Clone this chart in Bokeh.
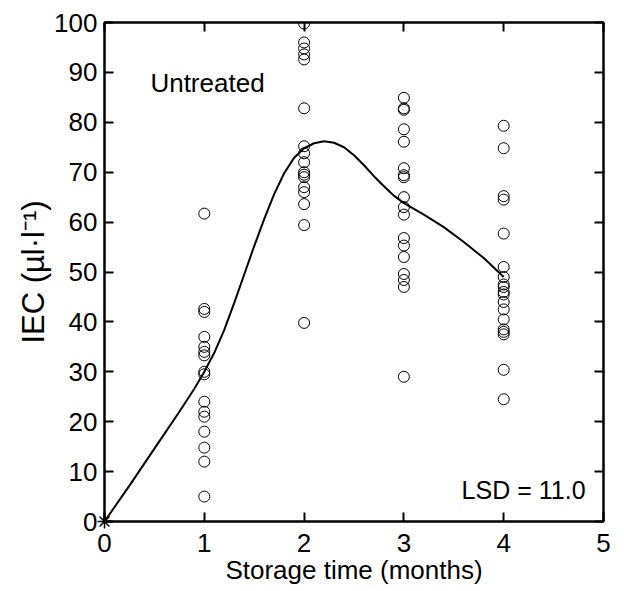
from bokeh.plotting import figure
from bokeh.models import LinearAxis, Range1d, FixedTicker, Label
from bokeh.embed import file_html
from bokeh.resources import INLINE

# Data
month1 = [61.7, 42.6, 42.0, 37.0, 35.0, 34.0, 33.3, 30.0, 29.5, 24.0, 22.0, 21.0, 18.0, 14.8, 12.0, 5.0]
month2 = [99.8, 96.0, 94.8, 93.6, 92.6, 82.8, 75.2, 73.8, 72.0, 70.0, 69.5, 69.0, 67.0, 66.0, 63.6, 59.4, 39.8]
month3 = [84.9, 82.8, 82.5, 78.6, 76.1, 70.8, 69.4, 69.0, 65.0, 63.0, 61.5, 56.8, 55.3, 53.0, 49.6, 48.4, 47.0, 29.0]
month4 = [79.3, 74.8, 65.2, 64.5, 57.7, 51.0, 49.0, 47.5, 47.0, 46.0, 45.5, 44.0, 42.5, 40.5, 38.5, 38.0, 37.5, 30.4, 24.5]

curve_x = [0, 0.25, 0.5, 0.75, 0.9, 1.0, 1.1, 1.2, 1.3, 1.4, 1.5, 1.6, 1.7, 1.8, 1.9, 2.0, 2.1, 2.2, 2.3, 2.4,
           2.5, 2.6, 2.7, 2.8, 2.9, 3.0, 3.2, 3.4, 3.6, 3.8, 4.0]
curve_y = [0, 7.2, 14.6, 22.0, 26.6, 30.0, 33.8, 38.4, 43.8, 49.5, 55.2, 60.6, 65.6, 69.8, 72.9, 74.8, 75.8, 76.2,
           75.9, 75.0, 73.4, 71.4, 69.2, 67.2, 65.3, 63.8, 61.5, 59.0, 56.0, 52.8, 49.0]

x_ticks = [0, 1, 2, 3, 4, 5]
y_ticks = [0, 10, 20, 30, 40, 50, 60, 70, 80, 90, 100]

FONT = "Liberation Sans"

p = figure(width=620, height=587, output_backend="svg", toolbar_location=None,
           x_range=Range1d(0, 5), y_range=Range1d(0, 100),
           x_axis_location=None, y_axis_location=None,
           min_border_left=104, min_border_right=17, min_border_top=22, min_border_bottom=65)
p.grid.visible = False
p.outline_line_color = "black"
p.outline_line_width = 2
p.background_fill_color = "white"
p.border_fill_color = "white"

def style(ax, labels=True):
    ax.axis_line_width = 2
    ax.axis_line_color = "black"
    ax.major_tick_in = 9
    ax.major_tick_out = 0
    ax.major_tick_line_width = 2
    ax.minor_tick_line_color = None
    ax.major_label_text_font = FONT
    ax.major_label_text_font_size = "26px"
    ax.major_label_text_color = "black"
    if not labels:
        ax.major_label_text_font_size = "0px"
        ax.major_label_text_alpha = 0

xb = LinearAxis(ticker=FixedTicker(ticks=x_ticks), axis_label="Storage time (months)")
style(xb)
xb.major_label_standoff = 12
xb.axis_label_standoff = 0
xb.axis_label_text_font = FONT
xb.axis_label_text_font_size = "26px"
xb.axis_label_text_font_style = "normal"
xb.axis_label_text_color = "black"
p.add_layout(xb, "below")

yl = LinearAxis(ticker=FixedTicker(ticks=y_ticks), axis_label="IEC (µl·l⁻¹)")
style(yl)
yl.major_label_standoff = 7
yl.axis_label_standoff = 0
yl.axis_label_text_font = FONT
yl.axis_label_text_font_size = "31px"
yl.axis_label_text_font_style = "normal"
yl.axis_label_text_color = "black"
p.add_layout(yl, "left")

xt = LinearAxis(ticker=FixedTicker(ticks=x_ticks))
style(xt, labels=False)
p.add_layout(xt, "above")

yr = LinearAxis(ticker=FixedTicker(ticks=y_ticks))
style(yr, labels=False)
p.add_layout(yr, "right")

p.line(curve_x, curve_y, line_color="black", line_width=2)

for xv, vals in [(1, month1), (2, month2), (3, month3), (4, month4)]:
    p.scatter([xv] * len(vals), vals, marker="circle", size=11,
              fill_color=None, line_color="black", line_width=1)

star = p.scatter([0], [0], marker="asterisk", size=14, line_color="black", line_width=1.5)
star.level = "overlay"

p.add_layout(Label(x=0.46, y=87.8, text="Untreated", text_font=FONT, text_font_size="26px",
                   text_baseline="middle", text_align="left", text_color="black"))
p.add_layout(Label(x=4.82, y=6.4, text="LSD = 11.0", text_font=FONT, text_font_size="25px",
                   text_baseline="middle", text_align="right", text_color="black"))

open("out.html", "w").write(file_html(p, INLINE))
